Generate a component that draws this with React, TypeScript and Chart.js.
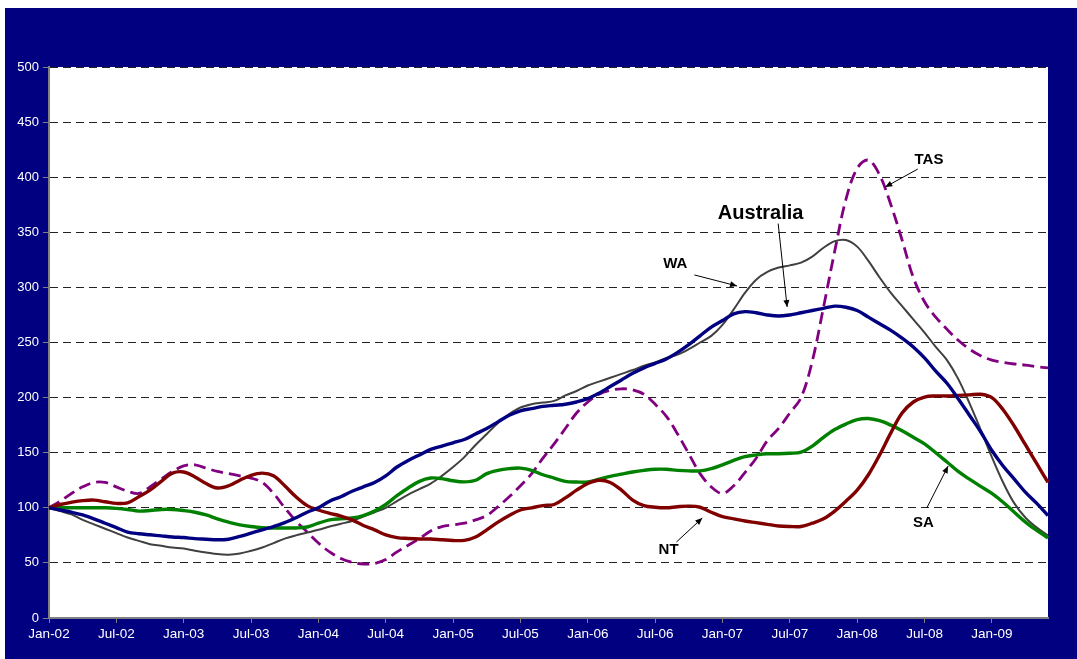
import React, { useEffect, useRef } from "react";
import { Chart, registerables } from "chart.js";

Chart.register(...registerables);

const monthNames = ["Jan", "Feb", "Mar", "Apr", "May", "Jun", "Jul", "Aug", "Sep", "Oct", "Nov", "Dec"];
const yearSuffixes = ["02", "03", "04", "05", "06", "07", "08", "09"];
const monthCount = 90; // Jan-02 .. Jun-09
const categories: string[] = [];
for (let i = 0; i < monthCount; i++) {
  categories.push(monthNames[i % 12] + "-" + yearSuffixes[Math.floor(i / 12)]);
}

const australia = [
  100, 98, 96, 93.5, 90, 86, 82, 78, 76.5, 75.5,
  74.5, 73.5, 73, 72, 71.5, 71, 71.5, 74, 77, 80,
  83, 86.5, 91, 96, 100, 106, 110, 115, 119, 123,
  129, 137, 143, 148, 153, 156, 159, 162, 167, 172,
  178, 184, 188, 190, 192, 193, 194, 196, 199, 204,
  210, 216, 222, 227, 231, 235, 241, 248, 256, 264,
  270, 276, 278, 277, 275, 274, 275, 277, 279, 281,
  283, 282, 279, 273, 267, 261, 254, 246, 236, 224,
  213, 199, 184, 169, 152, 138, 126, 114, 104, 93,
];

const wa = [
  100, 97, 94, 89, 85, 81, 77, 73, 70, 67,
  65.5, 64, 63, 61, 59.5, 58, 57.5, 58.5, 61, 64,
  68, 72, 75, 77.5, 80, 83, 85.5, 88, 92, 96,
  100, 106, 112, 117, 122, 129, 137, 146, 157, 167,
  177, 185, 191, 194, 195.5, 197, 202, 206, 211, 214.5,
  218, 221.5, 225, 229, 232, 236, 239, 244, 250, 256,
  266, 280, 295, 307, 314, 318, 320, 322.5, 328, 336,
  342, 343, 337, 324, 309, 295, 283, 271, 259, 246,
  234, 217, 195, 171, 146, 123, 104, 91, 82, 75,
];

const tas = [
  100, 106, 113, 119, 123, 123, 119, 115, 113, 119,
  126, 133, 138, 139, 136, 133, 131, 129, 127, 123,
  113, 100, 88, 78, 68, 60, 54, 50.5, 49, 49.5,
  53, 60, 66, 72, 79, 83, 84.5, 86, 89, 93,
  101, 110, 120, 131, 145, 158, 172, 186, 196, 203,
  206.5, 208, 207, 203, 194, 183, 167, 149, 131, 119,
  113, 120, 132, 145, 161, 172, 186, 200, 233, 282,
  333, 380, 408, 415.5, 402, 375, 343, 309, 287, 273,
  262, 252, 244, 238, 234, 232, 230.5, 229.5, 228, 227,
];

const nt = [
  100, 103, 105, 106.5, 107, 105.5, 104, 104.5, 110, 116,
  124, 131.5, 132.5, 128, 122, 118, 120, 125, 129.5, 131.5,
  129, 120, 110, 102, 98, 95, 92.5, 89, 84, 80,
  75.5, 73, 72.2, 71.7, 71.7, 71, 70.3, 70.5, 73.5, 80,
  87, 93, 98, 100, 102, 103, 109, 116, 122, 125,
  123, 116, 107, 102, 100.5, 100, 101, 101.5, 100.5, 96,
  92, 90, 88, 86.5, 85, 83.5, 83, 83, 86, 90,
  97, 106, 116, 130, 148, 168, 186, 196, 200.5, 201.5,
  201.5, 202, 202.5, 203, 200, 189, 174, 157, 140, 123,
];

const sa = [
  100, 100, 100, 100, 100, 100, 99.5, 98.5, 97, 97.5,
  98.5, 98.5, 97.5, 96, 93.5, 90, 87, 84.5, 83, 82,
  81.7, 81.7, 81.7, 82.6, 86, 89, 90, 90.7, 93, 97,
  103, 111, 118, 124, 127, 126.5, 124.5, 123.5, 125, 131,
  134, 135.5, 136, 134, 130, 127, 124, 123.4, 123.4, 126,
  128.5, 130.5, 132.5, 134, 135, 135, 134, 133.5, 133.5, 135.5,
  139, 143, 146.5, 148, 149, 149, 149.5, 150.6, 156, 164,
  171, 176, 180, 181, 179, 175, 170, 164, 158, 150,
  141.5, 133, 126, 119.5, 113, 105, 96, 87, 79.5, 72.6,
];

const yMin = 0;
const yMax = 500;
const yStep = 50;
const labelEvery = 6;

// Callout annotations in data space: [monthIndex, value]
const calloutTexts = ["Australia", "WA", "TAS", "NT", "SA"];
const calloutTextAt = [[63.4, 367], [55.8, 321], [78.4, 415.6], [55.2, 61.7], [77.9, 86.2]];
const calloutFontSize = [20, 15, 15, 15, 15];
const calloutArrowFrom = [[64.96, 357.9], [57.5, 311.3], [77.4, 407.4], [55.9, 69], [78.2, 99.8]];
const calloutArrowTo = [[65.76, 282.2], [61.3, 301.3], [74.5, 391.1], [58.2, 90.7], [80.1, 137.9]];

const FONT = "Arial, 'Liberation Sans', Helvetica, sans-serif";

const backgroundPlugin = {
  id: "bgPlugin",
  beforeDraw(chart: any) {
    const { ctx, chartArea, width, height } = chart;
    ctx.save();
    ctx.fillStyle = "#ffffff";
    ctx.fillRect(0, 0, width, height);
    ctx.fillStyle = "#000080";
    ctx.fillRect(5, 8, width - 5, height - 8);
    ctx.fillStyle = "#ffffff";
    ctx.fillRect(chartArea.left, chartArea.top, chartArea.right - chartArea.left, chartArea.bottom - chartArea.top);
    ctx.restore();
  },
};

const calloutPlugin = {
  id: "calloutPlugin",
  afterDatasetsDraw(chart: any) {
    const { ctx } = chart;
    const xs = chart.scales.x;
    const ys = chart.scales.y;
    const px = (i: number) => xs.getPixelForDecimal(i / (monthCount - 1));
    const py = (v: number) => ys.getPixelForValue(v);
    ctx.save();
    for (let k = 0; k < calloutTexts.length; k++) {
      ctx.font = `bold ${calloutFontSize[k]}px ${FONT}`;
      ctx.fillStyle = "#000000";
      ctx.textAlign = "center";
      ctx.textBaseline = "middle";
      ctx.fillText(calloutTexts[k], px(calloutTextAt[k][0]), py(calloutTextAt[k][1]));
      const x1 = px(calloutArrowFrom[k][0]);
      const y1 = py(calloutArrowFrom[k][1]);
      const x2 = px(calloutArrowTo[k][0]);
      const y2 = py(calloutArrowTo[k][1]);
      ctx.strokeStyle = "#000000";
      ctx.lineWidth = 1;
      ctx.beginPath();
      ctx.moveTo(x1, y1);
      ctx.lineTo(x2, y2);
      ctx.stroke();
      const ang = Math.atan2(y2 - y1, x2 - x1);
      const len = 7;
      const hw = 3;
      ctx.beginPath();
      ctx.moveTo(x2, y2);
      ctx.lineTo(x2 - len * Math.cos(ang) + hw * Math.sin(ang), y2 - len * Math.sin(ang) - hw * Math.cos(ang));
      ctx.lineTo(x2 - len * Math.cos(ang) - hw * Math.sin(ang), y2 - len * Math.sin(ang) + hw * Math.cos(ang));
      ctx.closePath();
      ctx.fill();
    }
    ctx.restore();
  },
};

export default function App() {
  const canvasRef = useRef<HTMLCanvasElement | null>(null);

  useEffect(() => {
    if (!canvasRef.current) return;
    const chart = new Chart(canvasRef.current, {
      type: "line",
      data: {
        labels: categories,
        datasets: [
          { label: "Australia", data: australia, borderColor: "#000080", borderWidth: 3.4 },
          { label: "NT", data: nt, borderColor: "#800000", borderWidth: 3.4 },
          { label: "SA", data: sa, borderColor: "#008000", borderWidth: 3.4 },
          { label: "WA", data: wa, borderColor: "#404040", borderWidth: 2 },
          { label: "TAS", data: tas, borderColor: "#800080", borderWidth: 2.8, borderDash: [12, 6] },
        ].map((d) => ({
          ...d,
          pointRadius: 0,
          pointHoverRadius: 0,
          fill: false,
          tension: 0.35,
          borderJoinStyle: "round" as const,
        })),
      },
      options: {
        responsive: false,
        animation: false,
        devicePixelRatio: 1,
        layout: { padding: { left: 0, right: 29, top: 67, bottom: 0 } },
        plugins: {
          legend: { display: false },
          tooltip: { enabled: false },
          title: { display: false },
        },
        scales: {
          x: {
            type: "category",
            offset: false,
            grid: {
              display: true,
              drawOnChartArea: false,
              drawTicks: true,
              tickLength: 5,
              color: (c: any) => (c.index % labelEvery === 0 ? "#808080" : "rgba(0,0,0,0)"),
            },
            border: { display: true, color: "#808080", width: 2 },
            ticks: {
              autoSkip: false,
              maxRotation: 0,
              minRotation: 0,
              color: "#ffffff",
              padding: 3,
              font: { family: FONT, size: 13.5 },
              callback: (_v: any, i: number) => (i % labelEvery === 0 ? categories[i] : ""),
            },
            afterFit: (s: any) => {
              s.height = 41;
            },
          },
          y: {
            min: yMin,
            max: yMax,
            grid: {
              color: "#222222",
              lineWidth: 1,
              tickLength: 6,
              tickColor: "#808080",
              drawTicks: true,
            },
            border: { display: true, color: "#808080", width: 2, dash: [8, 5] },
            ticks: {
              stepSize: yStep,
              color: "#ffffff",
              padding: 4,
              font: { family: FONT, size: 13 },
            },
            afterFit: (s: any) => {
              s.width = 49;
            },
          },
        },
      },
      plugins: [backgroundPlugin, calloutPlugin],
    });
    return () => chart.destroy();
  }, []);

  return (
    <div style={{ position: "fixed", left: 0, top: 0, width: 1077, height: 659 }}>
      <canvas ref={canvasRef} width={1077} height={659} style={{ width: 1077, height: 659, display: "block" }} />
    </div>
  );
}
